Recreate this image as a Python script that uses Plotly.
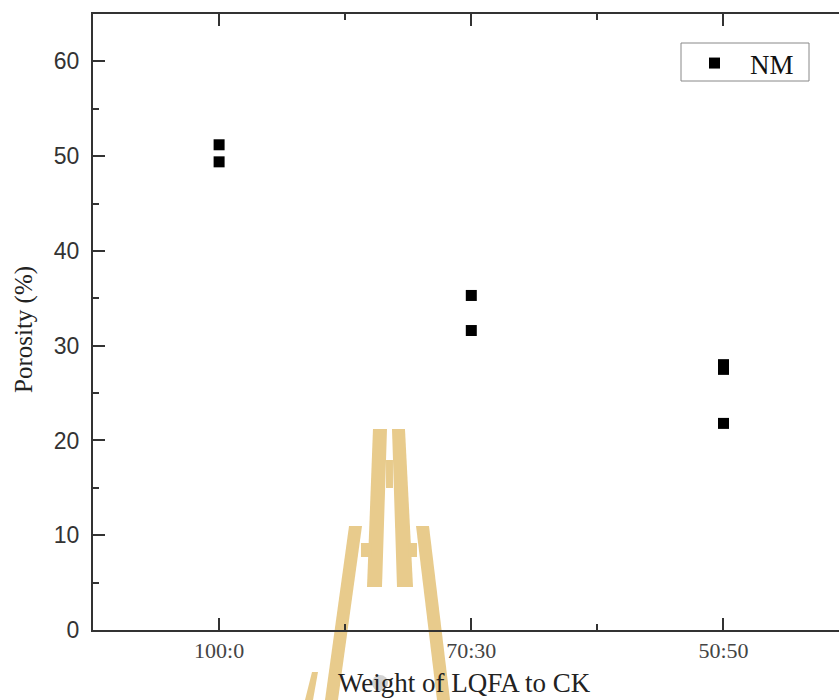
import plotly.graph_objects as go

# Porosity of NM samples at each LQFA:CK weight ratio
categories = ["100:0", "70:30", "50:50"]
sample_ratio = ["100:0", "100:0", "70:30", "70:30", "50:50", "50:50", "50:50"]
porosity = [51.2, 49.4, 35.3, 31.6, 28.0, 27.5, 21.8]

y_ticks = [0, 10, 20, 30, 40, 50, 60]

x_pos = [categories.index(r) + 1 for r in sample_ratio]
cat_pos = list(range(1, len(categories) + 1))

AXIS = "#333333"
SERIF = "Liberation Serif, Times New Roman, serif"
SANS = "Liberation Sans, Arial, sans-serif"

W, H = 839, 700
ML, MR, MT, MB = 93, 0, 14, 70
PW, PH = W - ML - MR, H - MT - MB
X_RANGE = [0.5, 3.458]
Y_RANGE = [0, 65]


def px(x, y):
    """Pixel position on the page -> paper coordinates."""
    return (x - ML) / PW, (H - MB - y) / PH


def poly(points):
    parts = []
    for i, (x, y) in enumerate(points):
        u, v = px(x, y)
        parts.append(("M" if i == 0 else "L") + f"{u:.4f},{v:.4f}")
    return " ".join(parts) + " Z"


# background emblem (gold) drawn behind the data
EMBLEM = "#E8CB8C"
emblem_parts = [
    [(373, 429), (387, 429), (382, 587), (367, 587)],
    [(392, 429), (405, 429), (413, 587), (397, 587)],
    [(386, 460), (393, 460), (393, 488), (386, 488)],
    [(349, 526), (362, 526), (338, 700), (325, 700)],
    [(416, 526), (429, 526), (450, 700), (437, 700)],
    [(361, 543), (371, 543), (371, 557), (361, 557)],
    [(408, 543), (417, 543), (417, 557), (408, 557)],
    [(312, 672), (318, 672), (313, 700), (305, 700)],
]
shapes = [
    dict(type="path", xref="paper", yref="paper", path=poly(p),
         fillcolor=EMBLEM, line=dict(width=0), layer="below")
    for p in emblem_parts
]
cx0, cy0 = px(372, 675)
cx1, cy1 = px(388, 691)
shapes.append(dict(type="circle", xref="paper", yref="paper",
                   x0=cx0, y0=cy0, x1=cx1, y1=cy1,
                   fillcolor="#D2D2D2", line=dict(width=0), layer="below"))

# legend frame
lx0, ly0 = px(681, 81)
lx1, ly1 = px(809, 43)
shapes.append(dict(type="rect", xref="paper", yref="paper",
                   x0=lx0, y0=ly0, x1=lx1, y1=ly1,
                   fillcolor="white", line=dict(color="#888888", width=1),
                   layer="above"))

# axis titles
tx, ty = px(464, 683)
yx, yy = px(24, 330)
annotations = [
    dict(text="Weight of LQFA to CK", xref="paper", yref="paper",
         x=tx, y=ty, xanchor="center", yanchor="middle", showarrow=False,
         font=dict(family=SERIF, size=27, color="#222222")),
    dict(text="Porosity (%)", xref="paper", yref="paper",
         x=yx, y=yy, xanchor="center", yanchor="middle", showarrow=False,
         textangle=-90,
         font=dict(family=SERIF, size=25, color="#222222")),
]

fig = go.Figure()
fig.add_trace(go.Scatter(
    x=x_pos, y=porosity, mode="markers", name="NM",
    marker=dict(symbol="square", size=11, color="black"),
))
# invisible copy bound to the top axis so its frame and ticks are laid out
fig.add_trace(go.Scatter(
    x=x_pos, y=porosity, xaxis="x2", mode="markers",
    marker=dict(opacity=0), showlegend=False, hoverinfo="skip",
))

tick_style = dict(ticks="inside", ticklen=12, tickwidth=2, tickcolor=AXIS)
x_minor = dict(tick0=0.5, dtick=1, ticks="inside", ticklen=6,
               tickwidth=2, tickcolor=AXIS, showgrid=False)

fig.update_layout(
    width=W, height=H,
    margin=dict(l=ML, r=MR, t=MT, b=MB, pad=0),
    paper_bgcolor="white", plot_bgcolor="white",
    shapes=shapes,
    annotations=annotations,
    showlegend=True,
    legend=dict(
        x=px(679, 0)[0], y=px(0, 39)[1], xanchor="left", yanchor="top",
        borderwidth=0, bgcolor="rgba(0,0,0,0)",
        font=dict(family=SERIF, size=27, color="#111111"),
        itemwidth=61,
    ),
    xaxis=dict(
        range=X_RANGE, automargin=False,
        tickvals=cat_pos, ticktext=categories,
        showgrid=False, zeroline=False,
        showline=True, linecolor=AXIS, linewidth=2, mirror=False,
        minor=x_minor,
        tickfont=dict(family=SERIF, size=22, color="#444444"),
        **tick_style,
    ),
    xaxis2=dict(
        range=X_RANGE, automargin=False, overlaying="x", side="top",
        tickvals=cat_pos, showticklabels=False,
        showgrid=False, zeroline=False,
        showline=True, linecolor=AXIS, linewidth=2,
        minor=x_minor,
        **tick_style,
    ),
    yaxis=dict(
        range=Y_RANGE, tickvals=y_ticks, automargin=False,
        showgrid=False, zeroline=False,
        showline=True, linecolor=AXIS, linewidth=2, mirror=False,
        minor=dict(dtick=5, ticks="inside", ticklen=6,
                   tickwidth=2, tickcolor=AXIS, showgrid=False),
        tickfont=dict(family=SANS, size=23, color="#333333"),
        ticklabelstandoff=7,
        **tick_style,
    ),
)

fig.write_html("out.html")
